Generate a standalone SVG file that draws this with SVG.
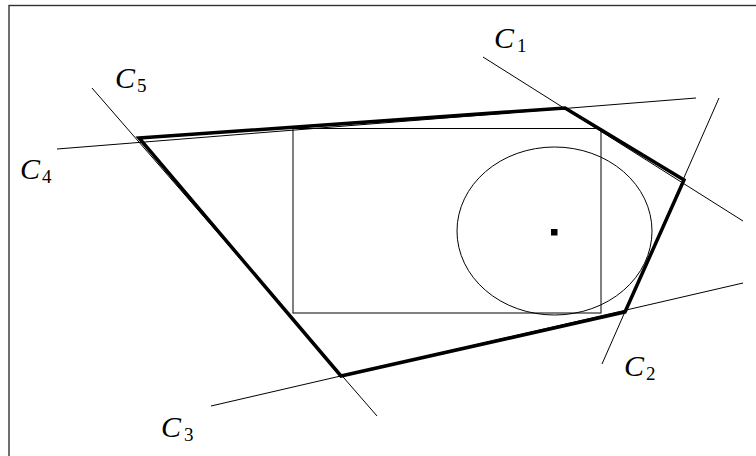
<svg xmlns="http://www.w3.org/2000/svg" width="756" height="456" viewBox="0 0 756 456">
<style>
.thin{fill:none;stroke:#000;stroke-width:1}
.thick{fill:none;stroke:#000;stroke-width:3.5;stroke-linejoin:miter}
.lbl{font-family:"Liberation Serif","DejaVu Serif",serif;fill:#000}
.c{font-style:italic;font-size:30px}
.s{font-size:19px}
</style>
<rect x="9" y="5.5" width="800" height="500" fill="#fff" stroke="#333" stroke-width="1.4"/>
<g id="connectors">
<line class="thin" x1="483" y1="57" x2="743" y2="221"/>
<line class="thin" x1="57" y1="149" x2="696" y2="98"/>
<line class="thin" x1="719" y1="98" x2="602" y2="364"/>
<line class="thin" x1="211" y1="406" x2="743" y2="283"/>
<line class="thin" x1="92" y1="88" x2="377" y2="416"/>
</g>
<g id="box"><rect class="thin" x="293" y="128.5" width="308" height="184.5"/></g>
<g id="ellipse"><ellipse class="thin" cx="554.5" cy="231" rx="97.5" ry="84"/></g>
<g id="center"><rect x="551" y="229" width="6.5" height="6.5" fill="#000"/></g>
<g id="polygon"><polygon class="thick" points="139,138 565,108 684,180 625,312 341,376"/></g>
<g id="C1"><text class="lbl" y="48"><tspan class="c" x="494">C</tspan><tspan class="s" x="517" y="52">1</tspan></text></g>
<g id="C2"><text class="lbl" y="376"><tspan class="c" x="624">C</tspan><tspan class="s" x="646" y="380">2</tspan></text></g>
<g id="C3"><text class="lbl" y="437"><tspan class="c" x="161">C</tspan><tspan class="s" x="184" y="441">3</tspan></text></g>
<g id="C4"><text class="lbl" y="179"><tspan class="c" x="20">C</tspan><tspan class="s" x="42" y="183">4</tspan></text></g>
<g id="C5"><text class="lbl" y="88"><tspan class="c" x="115">C</tspan><tspan class="s" x="137" y="92">5</tspan></text></g>
</svg>
